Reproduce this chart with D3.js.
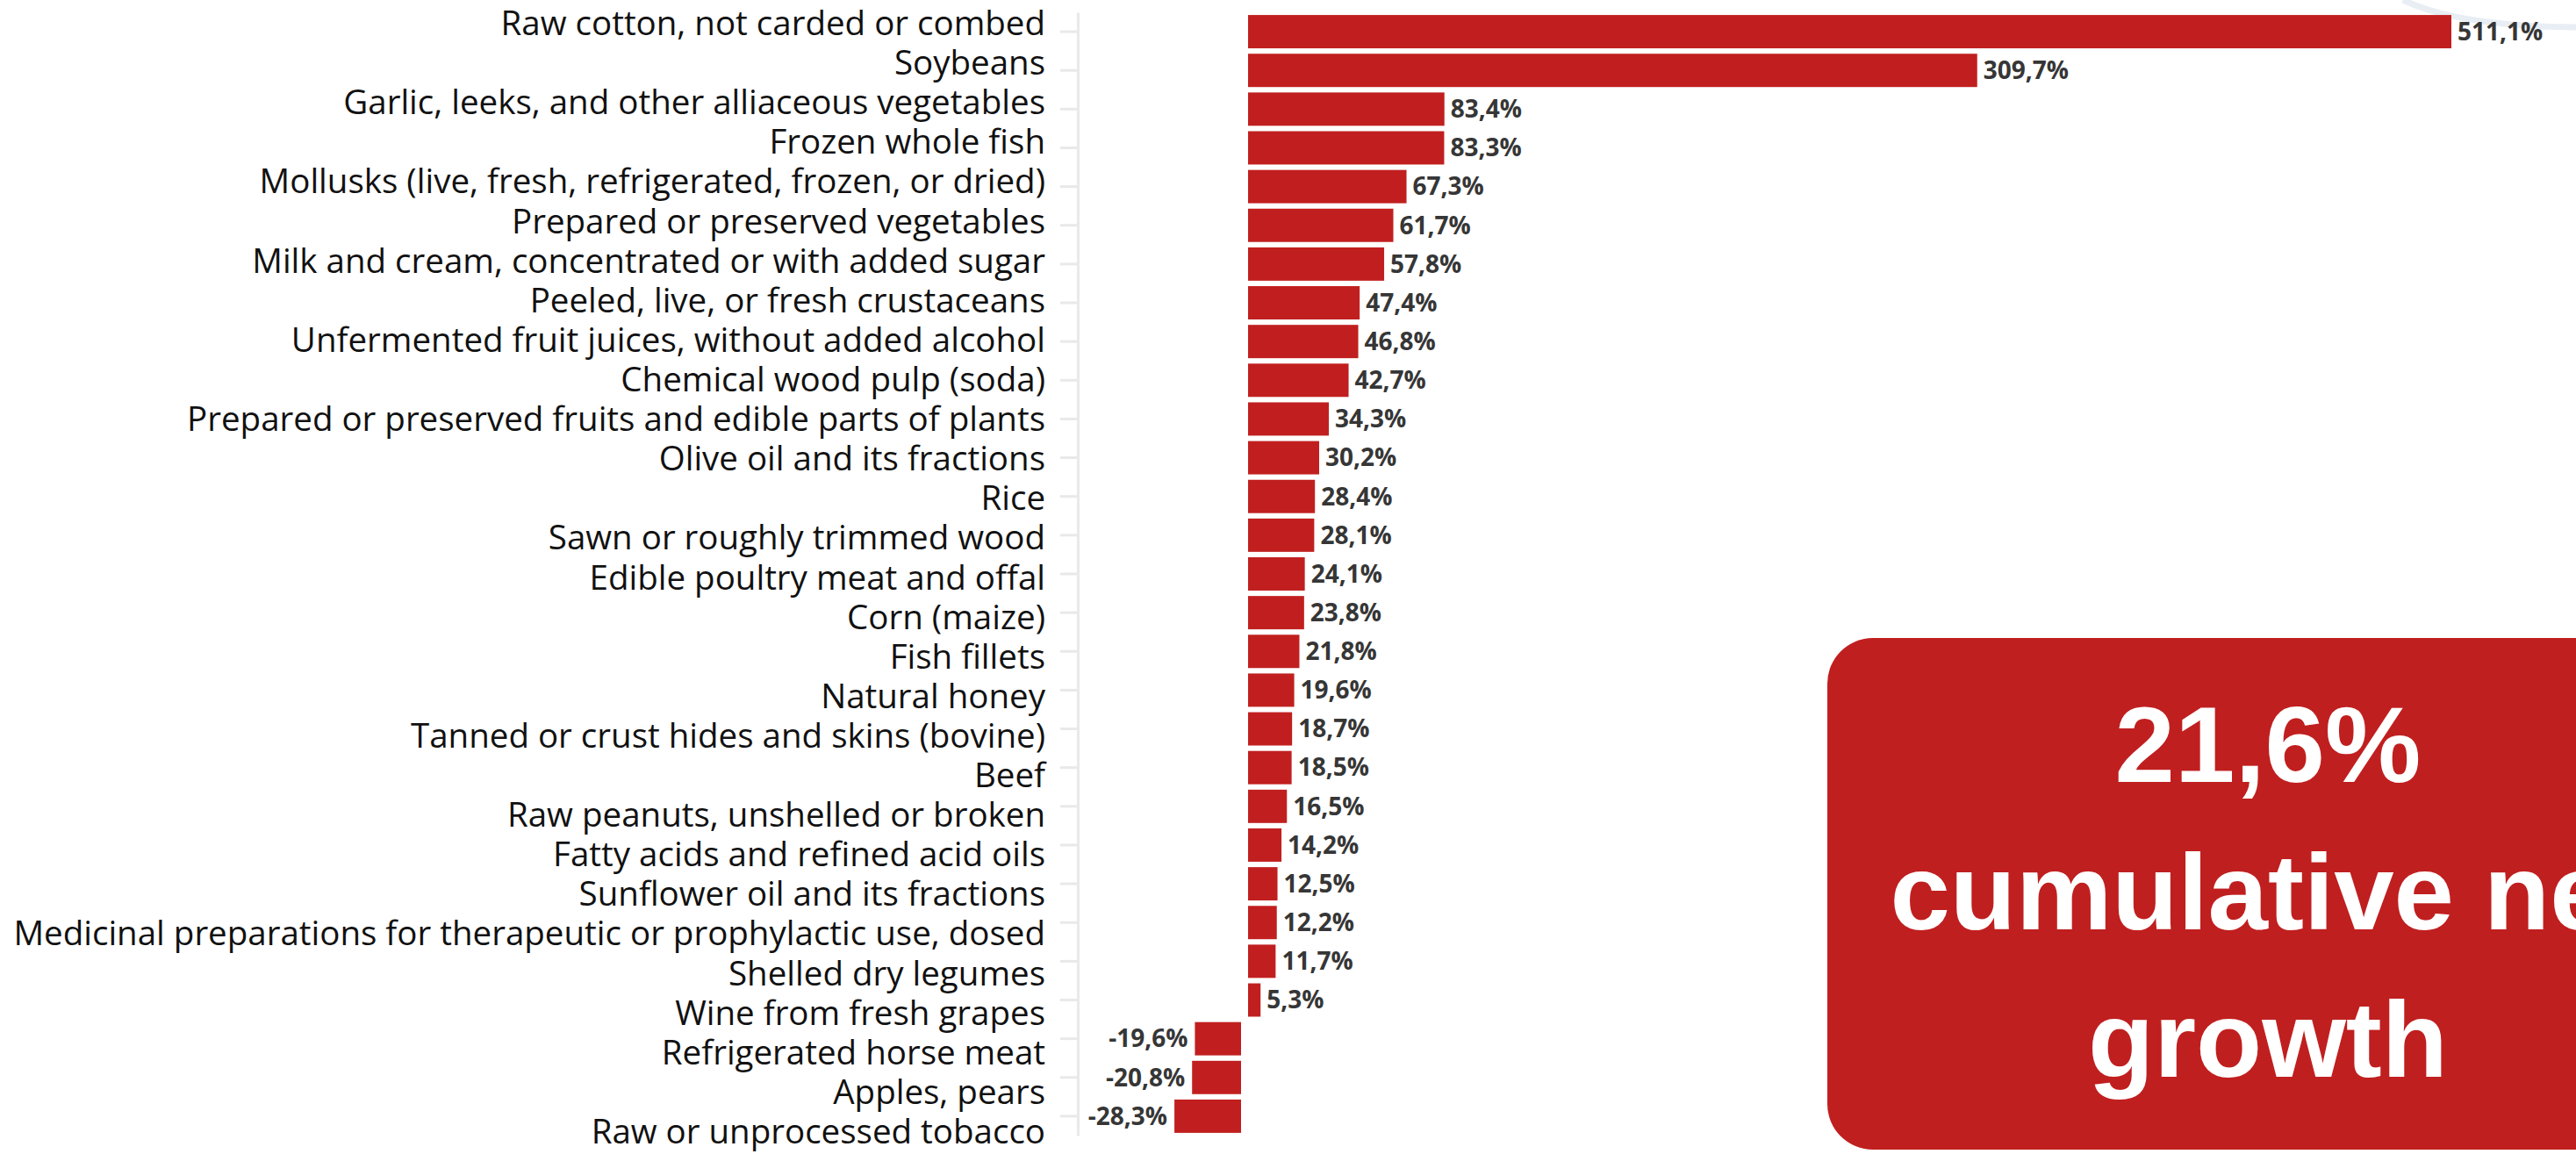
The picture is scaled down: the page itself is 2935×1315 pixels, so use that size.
<!DOCTYPE html>
<html>
<head>
<meta charset="utf-8">
<script src="https://d3js.org/d3.v7.min.js"></script>
<style>
    body {
        margin: 0;
        background: #fff;
        overflow: hidden;
    }

    svg {
        display: block;
        background: #fff;
    }

    .label {
        font-family: "Open Sans", sans-serif;
        font-size: 38.5px;
        fill: #111;
    }

    .value {
        font-family: "Open Sans", sans-serif;
        font-size: 28px;
        font-weight: 700;
        fill: #363636;
    }

    .axis path,
    .axis line {
        stroke: #e9e9e9;
        stroke-width: 3px;
    }

    .callout {
        font-family: "Liberation Sans", Arial, sans-serif;
        font-weight: 700;
        font-size: 123px;
        fill: #fff;
    }
</style>
</head>

<body>
<div id="container"></div>

<script>
    // categories, top to bottom
    var categories = [
        "Raw cotton, not carded or combed",
        "Soybeans",
        "Garlic, leeks, and other alliaceous vegetables",
        "Frozen whole fish",
        "Mollusks (live, fresh, refrigerated, frozen, or dried)",
        "Prepared or preserved vegetables",
        "Milk and cream, concentrated or with added sugar",
        "Peeled, live, or fresh crustaceans",
        "Unfermented fruit juices, without added alcohol",
        "Chemical wood pulp (soda)",
        "Prepared or preserved fruits and edible parts of plants",
        "Olive oil and its fractions",
        "Rice",
        "Sawn or roughly trimmed wood",
        "Edible poultry meat and offal",
        "Corn (maize)",
        "Fish fillets",
        "Natural honey",
        "Tanned or crust hides and skins (bovine)",
        "Beef",
        "Raw peanuts, unshelled or broken",
        "Fatty acids and refined acid oils",
        "Sunflower oil and its fractions",
        "Medicinal preparations for therapeutic or prophylactic use, dosed",
        "Shelled dry legumes",
        "Wine from fresh grapes",
        "Refrigerated horse meat",
        "Apples, pears",
        "Raw or unprocessed tobacco"
    ];

    // growth in %
    var growth = [511.1, 309.7, 83.4, 83.3, 67.3, 61.7, 57.8, 47.4, 46.8, 42.7,
        34.3, 30.2, 28.4, 28.1, 24.1, 23.8, 21.8, 19.6, 18.7, 18.5,
        16.5, 14.2, 12.5, 12.2, 11.7, 5.3, -19.6, -20.8, -28.3];

    var calloutLines = ["21,6%", "cumulative net", "growth"];

    var width = 2935,
        height = 1315;

    var data = categories.map(function(c, i) {
        return { name: c, value: growth[i] };
    });

    // comma as decimal mark, plain hyphen for negatives
    var locale = d3.formatLocale({
        decimal: ",",
        thousands: ".",
        grouping: [3],
        currency: ["", ""],
        minus: "-"
    });
    var fmt = locale.format(".1f");

    var svg = d3.select("#container").append("svg")
        .attr("width", width)
        .attr("height", height);

    // faint background arc at the top right
    svg.append("path")
        .attr("d", "M2738,0 Q2800,30 2935,31")
        .style("fill", "none")
        .style("stroke", "#e8eef4")
        .style("stroke-width", 7);

    // scales
    var x = d3.scaleLinear().domain([0, 511.1]).range([1422, 2793]);
    var y = d3.scaleBand().domain(categories)
        .range([14, 1294])
        .paddingInner(0.14)
        .paddingOuter(0.07);
    // category labels sit on their own, slightly looser, spacing
    var yLabel = d3.scalePoint().domain(categories).range([40, 1303]);

    var negGap = 8;

    // axis with ticks only
    svg.append("g")
        .attr("class", "axis")
        .attr("transform", "translate(1228,0)")
        .call(d3.axisLeft(y).tickSize(20).tickSizeOuter(0).tickFormat(""));

    // labels
    svg.append("g").selectAll("text")
        .data(data)
        .enter().append("text")
        .attr("class", "label")
        .attr("x", 1191)
        .attr("y", function(d) { return yLabel(d.name); })
        .style("text-anchor", "end")
        .text(function(d) { return d.name; });

    // bars
    svg.append("g").selectAll("rect")
        .data(data)
        .enter().append("rect")
        .attr("x", function(d) {
            return d.value >= 0 ? x(0) : x(d.value) - negGap;
        })
        .attr("y", function(d) { return y(d.name); })
        .attr("width", function(d) { return Math.abs(x(d.value) - x(0)); })
        .attr("height", y.bandwidth())
        .style("fill", "#c11f1f");

    // value labels
    svg.append("g").selectAll("text")
        .data(data)
        .enter().append("text")
        .attr("class", "value")
        .attr("x", function(d) {
            return d.value >= 0 ? x(d.value) + 7 : x(d.value) - negGap - 8;
        })
        .attr("y", function(d) { return y(d.name) + y.bandwidth() / 2; })
        .attr("dy", "0.35em")
        .style("text-anchor", function(d) { return d.value >= 0 ? "start" : "end"; })
        .text(function(d) { return fmt(d.value) + "%"; });

    // callout box
    var box = svg.append("g");
    box.append("rect")
        .attr("x", 2082)
        .attr("y", 727)
        .attr("width", 1004)
        .attr("height", 583)
        .attr("rx", 52)
        .attr("ry", 52)
        .style("fill", "#c01f1f");

    box.selectAll("text")
        .data(calloutLines)
        .enter().append("text")
        .attr("class", "callout")
        .attr("x", 2584)
        .attr("y", function(d, i) { return 891 + i * 168; })
        .style("text-anchor", "middle")
        .text(function(d) { return d; });
</script>
</body>
</html>
